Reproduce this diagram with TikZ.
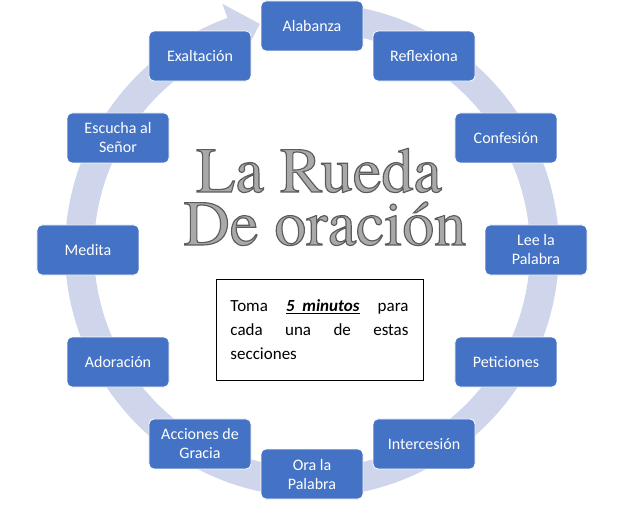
\documentclass[tikz,border=0pt]{standalone}
\usepackage{fontspec}
\newfontfamily\cuerpo{Carlito}
\newfontfamily\rotulofont[FakeBold=1.8]{texgyretermes-regular.otf}
\usepackage{tikz}

\definecolor{boxblue}{HTML}{4472C4}
\definecolor{ringblue}{HTML}{CFD5EA}
\definecolor{lettergray}{HTML}{A9A9A9}

\begin{document}
\begin{tikzpicture}[x=1pt, y=1pt,
    stage/.style={rectangle, rounded corners=5pt, fill=boxblue, draw=white,
        line width=0.8pt, text=white, minimum width=102pt, minimum height=50pt,
        align=center, inner sep=2pt, font=\cuerpo\fontsize{16}{19}\selectfont},
    rotulo/.style={anchor=base, inner sep=0pt, text=lettergray,
        font=\rotulofont\fontsize{64}{64}\selectfont},
    note/.style={rectangle, draw, line width=0.8pt, text width=178pt,
        align=justify, minimum height=101pt, inner xsep=14.5pt,
        font=\cuerpo\fontsize{17}{24}\selectfont}]

    \useasboundingbox (-312,-258) rectangle (305,250);

    % the ring with its arrow head
    \fill[ringblue] (80:247) arc[start angle=80, end angle=-250, radius=247]
        -- (-250:262) -- (-257:232) -- (-250:204) -- (-250:218)
        arc[start angle=-250, end angle=80, radius=218] -- cycle;

    \node[stage] (ala) at (90:224) {Alabanza};
    \node[stage] (ref) at (60:224) {Reflexiona};
    \node[stage] (con) at (30:224) {Confesi\'on};
    \node[stage] (lee) at (0:224) {Lee la\\Palabra};
    \node[stage] (pet) at (-30:224) {Peticiones};
    \node[stage] (int) at (-60:224) {Intercesi\'on};
    \node[stage] (ora) at (-90:224) {Ora la\\Palabra};
    \node[stage] (acc) at (-120:224) {Acciones de\\Gracia};
    \node[stage] (ado) at (-150:224) {Adoraci\'on};
    \node[stage] (med) at (180:224) {Medita};
    \node[stage] (esc) at (150:224) {Escucha al\\Se\~nor};
    \node[stage] (exa) at (120:224) {Exaltaci\'on};

    % title: grey letters with a darker stroke
    \node[rotulo] (rueda) at (7,58) {\special{pdf:code 0.36 G}La Rueda};
    \node[rotulo] (oracion) at (13,5) {\special{pdf:code 0.36 G}De oraci\'on};

    \node[note] (toma) at (7.5,-79.5) {Toma \underline{\textbf{\textit{5\ \ minutos}}} para\linebreak
        cada una de estas\linebreak secciones};

\end{tikzpicture}
\end{document}
